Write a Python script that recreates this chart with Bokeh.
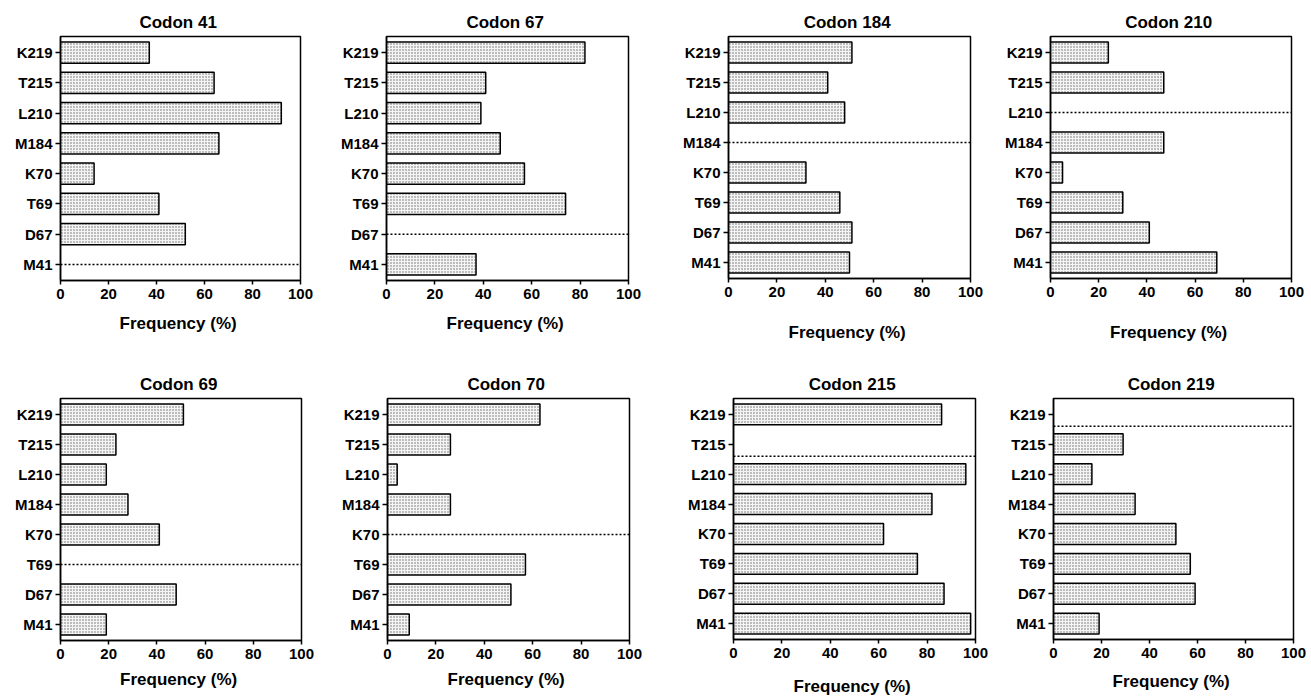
from bokeh.plotting import figure
from bokeh.layouts import column, row
from bokeh.models import Range1d, FixedTicker, ColumnDataSource
from bokeh.embed import file_html
from bokeh.resources import INLINE

mutations = ["M41", "D67", "T69", "K70", "M184", "L210", "T215", "K219"]
x_ticks = [0, 20, 40, 60, 80, 100]

codon41 = [None, 52, 41, 14, 66, 92, 64, 37]
codon67 = [37, None, 74, 57, 47, 39, 41, 82]
codon184 = [50, 51, 46, 32, None, 48, 41, 51]
codon210 = [69, 41, 30, 5, 47, None, 47, 24]
codon69 = [19, 48, None, 41, 28, 19, 23, 51]
codon70 = [9, 51, 57, None, 26, 4, 26, 63]
codon215 = [98, 87, 76, 62, 82, 96, None, 86]
codon219 = [19, 59, 57, 51, 34, 16, 29, None]

panel_titles = ["Codon  41", "Codon  67", "Codon  184", "Codon  210",
                "Codon  69", "Codon  70", "Codon  215", "Codon  219"]
panel_values = [codon41, codon67, codon184, codon210,
                codon69, codon70, codon215, codon219]
# where the dotted reference line for the panel's own codon sits (offset from its row)
self_offsets = [0, 0, 0, 0, 0, 0, -0.4, -0.4]

# layout: left, frame_w, right, top, frame_h, bottom, xlabel_standoff
layouts = [
    (60, 240, 20, 36, 244, 65, 12),
    (66, 242, 22, 36, 244, 65, 12),
    (78, 242, 18, 35, 242, 68, 23),
    (62, 241, 20, 35, 242, 68, 23),
    (60, 241, 19, 53, 242, 59, 8),
    (67, 242, 21, 53, 242, 59, 8),
    (83, 242, 15, 47, 241, 66, 16),
    (63, 240, 18, 47, 241, 66, 11),
]

FONT = "Liberation Sans"


def make_panel(title, vals, off, lay):
    l, fw, r, t, fh, b, stand = lay
    p = figure(output_backend="svg", toolbar_location=None,
               frame_width=fw, frame_height=fh,
               min_border_left=l, min_border_right=r,
               min_border_top=t, min_border_bottom=b,
               x_range=Range1d(0, 100), y_range=Range1d(-0.53, 7.53),
               title=title)
    idx = [i for i, v in enumerate(vals) if v is not None]
    src = ColumnDataSource(dict(y=idx, right=[vals[i] for i in idx]))
    p.hbar(y="y", left=0, right="right", height=0.7, source=src,
           fill_color="#f4f4f4", line_color="black", line_width=1.5,
           hatch_pattern="dot", hatch_scale=3, hatch_weight=1,
           hatch_color="#444444", hatch_alpha=0.8)
    selfi = [i for i, v in enumerate(vals) if v is None]
    for i in selfi:
        p.line(x=[0, 100], y=[i + off, i + off], line_color="black",
               line_width=1.6, line_dash="2 2")

    p.title.align = "center"
    p.title.text_font = FONT
    p.title.text_font_size = "17px"
    p.title.text_font_style = "bold"
    p.title.text_color = "black"

    p.xgrid.visible = False
    p.ygrid.visible = False
    p.outline_line_color = "black"
    p.outline_line_width = 1.5
    p.background_fill_color = "white"
    p.border_fill_color = "white"

    xa = p.xaxis[0]
    xa.ticker = FixedTicker(ticks=x_ticks)
    xa.minor_tick_line_color = None
    xa.major_tick_in = 0
    xa.major_tick_out = 4
    xa.major_tick_line_width = 1.5
    xa.axis_line_width = 1.5
    xa.major_label_text_font = FONT
    xa.major_label_text_font_size = "15px"
    xa.major_label_text_font_style = "bold"
    xa.major_label_text_color = "black"
    xa.major_label_standoff = 4
    xa.axis_label = "Frequency  (%)"
    xa.axis_label_text_font = FONT
    xa.axis_label_text_font_size = "17px"
    xa.axis_label_text_font_style = "bold"
    xa.axis_label_text_color = "black"
    xa.axis_label_standoff = stand

    ya = p.yaxis[0]
    ya.ticker = FixedTicker(ticks=list(range(len(mutations))))
    ya.major_label_overrides = {i: m for i, m in enumerate(mutations)}
    ya.minor_tick_line_color = None
    ya.major_tick_in = 0
    ya.major_tick_out = 5
    ya.major_tick_line_width = 1.5
    ya.axis_line_width = 1.5
    ya.major_label_text_font = FONT
    ya.major_label_text_font_size = "15px"
    ya.major_label_text_font_style = "bold"
    ya.major_label_text_color = "black"
    ya.major_label_standoff = 3
    return p


panels = [make_panel(t, v, o, lay) for t, v, o, lay in
          zip(panel_titles, panel_values, self_offsets, layouts)]

layout = column(row(*panels[:4], spacing=0), row(*panels[4:], spacing=0), spacing=0)

open("out.html", "w").write(file_html(layout, INLINE))
